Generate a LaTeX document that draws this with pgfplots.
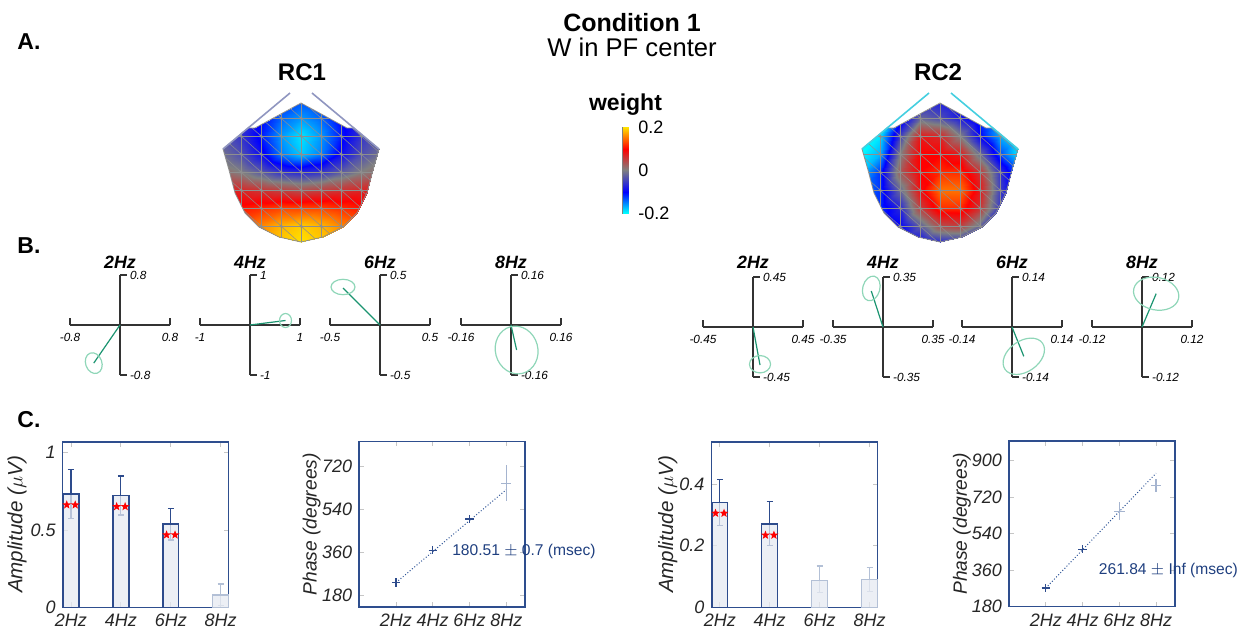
\documentclass[border=0pt]{standalone}
\usepackage{fontspec}
\setmainfont{Liberation Sans}
\usepackage{pgfplots}
\usepackage{pgfplotstable}
\pgfplotsset{compat=1.18}
\newcommand\fs[1]{\fontsize{#1}{#1}\selectfont}
\definecolor{frame}{HTML}{2E4E8E}
\definecolor{bardark}{HTML}{2D4B8C}
\definecolor{barfill}{HTML}{E6EAF2}
\definecolor{barlight}{HTML}{B3C0D6}
\definecolor{phgreen}{HTML}{1B9470}
\definecolor{elgreen}{HTML}{8FD6B8}
\definecolor{fitblue}{HTML}{2F5597}
\definecolor{txtblue}{HTML}{1F3F7F}
\definecolor{fadeblue}{HTML}{A5B4CF}
\definecolor{nose1}{HTML}{9096C0}
\definecolor{nose2}{HTML}{45CFE0}
\definecolor{meshgray}{HTML}{8E8E8E}

\pgfdeclareplotmark{fstar}{%
  \pgfpathmoveto{\pgfpointpolar{90}{\pgfplotmarksize}}%
  \pgfpathlineto{\pgfpointpolar{126}{0.42\pgfplotmarksize}}%
  \pgfpathlineto{\pgfpointpolar{162}{\pgfplotmarksize}}%
  \pgfpathlineto{\pgfpointpolar{198}{0.42\pgfplotmarksize}}%
  \pgfpathlineto{\pgfpointpolar{234}{\pgfplotmarksize}}%
  \pgfpathlineto{\pgfpointpolar{270}{0.42\pgfplotmarksize}}%
  \pgfpathlineto{\pgfpointpolar{306}{\pgfplotmarksize}}%
  \pgfpathlineto{\pgfpointpolar{342}{0.42\pgfplotmarksize}}%
  \pgfpathlineto{\pgfpointpolar{18}{\pgfplotmarksize}}%
  \pgfpathlineto{\pgfpointpolar{54}{0.42\pgfplotmarksize}}%
  \pgfpathclose\pgfusepathqfill}

% topography grids: x (px from head centre), y (-px from top), weight
\pgfplotstableread[row sep=\\]{
x y c\\
-80 -100 -0.04\\ -60 -100 -0.05\\ -40 -100 -0.08\\ -20 -100 -0.12\\ 0 -100 -0.13\\ 20 -100 -0.12\\ 40 -100 -0.08\\ 60 -100 -0.05\\ 80 -100 -0.04\\
-80 -118 -0.04\\ -60 -118 -0.06\\ -40 -118 -0.10\\ -20 -118 -0.14\\ 0 -118 -0.16\\ 20 -118 -0.14\\ 40 -118 -0.10\\ 60 -118 -0.06\\ 80 -118 -0.04\\
-80 -136 -0.03\\ -60 -136 -0.06\\ -40 -136 -0.11\\ -20 -136 -0.16\\ 0 -136 -0.19\\ 20 -136 -0.16\\ 40 -136 -0.11\\ 60 -136 -0.06\\ 80 -136 -0.03\\
-80 -154 -0.01\\ -60 -154 -0.04\\ -40 -154 -0.09\\ -20 -154 -0.15\\ 0 -154 -0.18\\ 20 -154 -0.15\\ 40 -154 -0.09\\ 60 -154 -0.04\\ 80 -154 -0.01\\
-80 -172 0.02\\ -60 -172 0.00\\ -40 -172 -0.03\\ -20 -172 -0.06\\ 0 -172 -0.07\\ 20 -172 -0.06\\ 40 -172 -0.03\\ 60 -172 0.00\\ 80 -172 0.02\\
-80 -190 0.08\\ -60 -190 0.07\\ -40 -190 0.06\\ -20 -190 0.05\\ 0 -190 0.04\\ 20 -190 0.05\\ 40 -190 0.06\\ 60 -190 0.07\\ 80 -190 0.08\\
-80 -208 0.11\\ -60 -208 0.11\\ -40 -208 0.12\\ -20 -208 0.13\\ 0 -208 0.13\\ 20 -208 0.13\\ 40 -208 0.12\\ 60 -208 0.11\\ 80 -208 0.11\\
-80 -226 0.12\\ -60 -226 0.14\\ -40 -226 0.16\\ -20 -226 0.18\\ 0 -226 0.19\\ 20 -226 0.18\\ 40 -226 0.16\\ 60 -226 0.14\\ 80 -226 0.12\\
-80 -244 0.12\\ -60 -244 0.14\\ -40 -244 0.17\\ -20 -244 0.19\\ 0 -244 0.20\\ 20 -244 0.19\\ 40 -244 0.17\\ 60 -244 0.14\\ 80 -244 0.12\\
}\rcone
\pgfplotstableread[row sep=\\]{
x y c\\
-80 -100 -0.20\\ -60 -100 -0.20\\ -40 -100 -0.15\\ -20 -100 -0.10\\ 0 -100 -0.08\\ 20 -100 -0.10\\ 40 -100 -0.15\\ 60 -100 -0.20\\ 80 -100 -0.20\\
-80 -118 -0.20\\ -60 -118 -0.18\\ -40 -118 -0.12\\ -20 -118 -0.02\\ 0 -118 -0.04\\ 20 -118 -0.08\\ 40 -118 -0.12\\ 60 -118 -0.18\\ 80 -118 -0.20\\
-80 -136 -0.20\\ -60 -136 -0.19\\ -40 -136 -0.05\\ -20 -136 0.08\\ 0 -136 0.07\\ 20 -136 0.00\\ 40 -136 -0.10\\ 60 -136 -0.17\\ 80 -136 -0.20\\
-80 -154 -0.20\\ -60 -154 -0.17\\ -40 -154 0.00\\ -20 -154 0.10\\ 0 -154 0.10\\ 20 -154 0.08\\ 40 -154 -0.02\\ 60 -154 -0.13\\ 80 -154 -0.20\\
-80 -172 -0.18\\ -60 -172 -0.12\\ -40 -172 0.03\\ -20 -172 0.10\\ 0 -172 0.12\\ 20 -172 0.12\\ 40 -172 0.06\\ 60 -172 -0.06\\ 80 -172 -0.15\\
-80 -190 -0.16\\ -60 -190 -0.12\\ -40 -190 -0.02\\ -20 -190 0.09\\ 0 -190 0.15\\ 20 -190 0.15\\ 40 -190 0.08\\ 60 -190 -0.05\\ 80 -190 -0.12\\
-80 -208 -0.14\\ -60 -208 -0.12\\ -40 -208 -0.07\\ -20 -208 0.05\\ 0 -208 0.12\\ 20 -208 0.12\\ 40 -208 0.06\\ 60 -208 -0.06\\ 80 -208 -0.12\\
-80 -226 -0.12\\ -60 -226 -0.12\\ -40 -226 -0.10\\ -20 -226 -0.03\\ 0 -226 0.04\\ 20 -226 0.05\\ 40 -226 -0.02\\ 60 -226 -0.08\\ 80 -226 -0.10\\
-80 -244 -0.10\\ -60 -244 -0.10\\ -40 -244 -0.10\\ -20 -244 -0.10\\ 0 -244 -0.08\\ 20 -244 -0.08\\ 40 -244 -0.09\\ 60 -244 -0.10\\ 80 -244 -0.10\\
}\rctwo
\pgfplotstableread[row sep=\\]{
x y c\\
0 -0.2 -0.2\\ 1 -0.2 -0.2\\
0 -0.1 -0.1\\ 1 -0.1 -0.1\\
0 0 0\\ 1 0 0\\
0 0.1 0.1\\ 1 0.1 0.1\\
0 0.2 0.2\\ 1 0.2 0.2\\
}\cbar
% head outline (px from centre, -px from top)
\pgfplotstableread[row sep=\\]{
x y\\ 0 -103\\ 46 -128\\ 53 -128\\ 78 -149\\ 72 -170\\ 66 -193\\ 56 -213\\ 42 -227\\ 22 -237\\ 0 -242\\
-22 -237\\ -42 -227\\ -56 -213\\ -66 -193\\ -72 -170\\ -78 -149\\ -53 -128\\ -46 -128\\ 0 -103\\
}\outline

\pgfplotsset{
  colormap={topo}{rgb255(0cm)=(0,255,255); rgb255(1cm)=(0,0,255); rgb255(2cm)=(128,128,128); rgb255(3cm)=(255,0,0); rgb255(4cm)=(255,228,0)},
  headax/.style={hide axis, scale only axis, width=82pt, height=76pt, xmin=-82, xmax=82, ymin=-245, ymax=-93,
    anchor=center, colormap name=topo, point meta min=-0.2, point meta max=0.2},
  meshdiag/.style={meshgray, line width=0.25pt, unbounded coords=jump},
  phasor/.style={scale only axis, width=50pt, height=50pt, anchor=center, clip=false,
    axis lines=middle, axis line style={-, draw=black!80, line width=0.8pt},
    tick style={draw=black!80, line width=0.7pt}, major tick length=3.5pt, tick align=inside,
    ticklabel style={font=\itshape\fs{5.9}},
    yticklabel style={anchor=west, xshift=1.5pt},
    xticklabel style={yshift=-0.5pt},
    xmin=-#1, xmax=#1, ymin=-#1, ymax=#1, xtick={-#1,#1}, ytick={-#1,#1}},
  cax/.style={scale only axis, width=83pt, height=82.75pt, anchor=center, clip=false,
    axis line style={draw=frame, line width=0.75pt},
    tick style={draw=gray!45, line width=0.4pt}, major tick length=2.5pt, tick align=inside,
    ticklabel style={font=\itshape\fs{9}, text=black!85},
    ylabel style={font=\itshape\fs{9.6}, text=black!85, anchor=center}},
  barax/.style={cax, xmin=0.834, xmax=4.16, ymin=0, xtick={1,2,3,4}, xticklabels={2Hz,4Hz,6Hz,8Hz},
    ylabel={Amplitude ($\mu$V)}, ylabel style={font=\itshape\fs{10.3}}},
  phax/.style={cax, xmin=0, xmax=9.03, xtick={2,4,6,8}, xticklabels={2Hz,4Hz,6Hz,8Hz},
    ylabel={Phase (degrees)}},
  ebar/.style={draw=none, mark=none, error bars/.cd, y dir=both, y explicit,
    error bar style={draw=#1, line width=0.6pt}, error mark=-,
    error mark options={rotate=90, draw=#1, line width=0.6pt, mark size=1.5pt}},
}

\begin{document}
\begin{tikzpicture}
\useasboundingbox (0,0) rectangle (621.5pt,-316pt);

% ---------- titles ----------
\node[anchor=base, inner sep=0pt, font=\bfseries\fs{12.5}] at (316pt,-15.5pt) {Condition 1};
\node[anchor=base, inner sep=0pt, font=\fs{12.8}] at (316pt,-28pt) {W in PF center};
\node[anchor=base west, inner sep=0pt, font=\bfseries\fs{11.5}] at (8.5pt,-24.5pt) {A.};
\node[anchor=base west, inner sep=0pt, font=\bfseries\fs{11.5}] at (8.5pt,-126.5pt) {B.};
\node[anchor=base west, inner sep=0pt, font=\bfseries\fs{11.5}] at (8.5pt,-213.5pt) {C.};
\node[anchor=base, font=\bfseries\fs{12}] at (151pt,-40pt) {RC1};
\node[anchor=base, font=\bfseries\fs{12}] at (469pt,-40pt) {RC2};
\node[anchor=base, font=\bfseries\fs{11.5}] at (312.75pt,-55pt) {weight};

% ---------- RC1 head ----------
\begin{scope}
\clip[x=0.5pt,y=-0.5pt,shift={(301,0)}] (0,103) -- (46,128) -- (53,128) -- (78,149) -- (72,170) -- (66,193) -- (56,213) -- (42,227) -- (22,237) -- (0,242) -- (-22,237) -- (-42,227) -- (-56,213) -- (-66,193) -- (-72,170) -- (-78,149) -- (-53,128) -- (-46,128) -- cycle;
\begin{axis}[headax, at={(150.5pt,-84.5pt)}]
\addplot[surf, shader=interp, mesh/cols=9, point meta=explicit] table[meta=c]{\rcone};
\addplot[meshdiag] table[x=x, y=y, row sep=\\]{x y\\ -80 -100\\ 80 -100\\ nan nan\\ -80 -118\\ 80 -118\\ nan nan\\ -80 -136\\ 80 -136\\ nan nan\\ -80 -154\\ 80 -154\\ nan nan\\ -80 -172\\ 80 -172\\ nan nan\\ -80 -190\\ 80 -190\\ nan nan\\ -80 -208\\ 80 -208\\ nan nan\\ -80 -226\\ 80 -226\\ nan nan\\ -80 -244\\ 80 -244\\ nan nan\\ -80 -100\\ -80 -244\\ nan nan\\ -60 -100\\ -60 -244\\ nan nan\\ -40 -100\\ -40 -244\\ nan nan\\ -20 -100\\ -20 -244\\ nan nan\\ 0 -100\\ 0 -244\\ nan nan\\ 20 -100\\ 20 -244\\ nan nan\\ 40 -100\\ 40 -244\\ nan nan\\ 60 -100\\ 60 -244\\ nan nan\\ 80 -100\\ 80 -244\\};
\addplot[meshdiag] coordinates {(60,-100)(80,-118) (nan,nan) (40,-100)(80,-136) (nan,nan) (20,-100)(80,-154) (nan,nan) (0,-100)(80,-172) (nan,nan) (-20,-100)(80,-190) (nan,nan) (-40,-100)(80,-208) (nan,nan) (-60,-100)(80,-226) (nan,nan) (-80,-100)(80,-244) (nan,nan) (-80,-118)(60,-244) (nan,nan) (-80,-136)(40,-244) (nan,nan) (-80,-154)(20,-244) (nan,nan) (-80,-172)(0,-244) (nan,nan) (-80,-190)(-20,-244) (nan,nan) (-80,-208)(-40,-244) (nan,nan) (-80,-226)(-60,-244)};
\addplot[only marks, mark=*, mark size=0.5pt, meshgray] table[x=x, y=y]{\rcone};
\end{axis}
\end{scope}
\begin{axis}[headax, at={(150.5pt,-84.5pt)}, clip=false]
\addplot[meshgray, line width=0.4pt] table[x=x, y=y]{\outline};
\addplot[nose1, line width=0.8pt] coordinates {(-11,-93) (-78,-149)};
\addplot[nose1, line width=0.8pt] coordinates {(11,-93) (78,-149)};
\end{axis}

% ---------- RC2 head ----------
\begin{scope}
\clip[x=0.5pt,y=-0.5pt,shift={(940,0)}] (0,103) -- (46,128) -- (53,128) -- (78,149) -- (72,170) -- (66,193) -- (56,213) -- (42,227) -- (22,237) -- (0,242) -- (-22,237) -- (-42,227) -- (-56,213) -- (-66,193) -- (-72,170) -- (-78,149) -- (-53,128) -- (-46,128) -- cycle;
\begin{axis}[headax, at={(470pt,-84.5pt)}]
\addplot[surf, shader=interp, mesh/cols=9, point meta=explicit] table[meta=c]{\rctwo};
\addplot[meshdiag] table[x=x, y=y, row sep=\\]{x y\\ -80 -100\\ 80 -100\\ nan nan\\ -80 -118\\ 80 -118\\ nan nan\\ -80 -136\\ 80 -136\\ nan nan\\ -80 -154\\ 80 -154\\ nan nan\\ -80 -172\\ 80 -172\\ nan nan\\ -80 -190\\ 80 -190\\ nan nan\\ -80 -208\\ 80 -208\\ nan nan\\ -80 -226\\ 80 -226\\ nan nan\\ -80 -244\\ 80 -244\\ nan nan\\ -80 -100\\ -80 -244\\ nan nan\\ -60 -100\\ -60 -244\\ nan nan\\ -40 -100\\ -40 -244\\ nan nan\\ -20 -100\\ -20 -244\\ nan nan\\ 0 -100\\ 0 -244\\ nan nan\\ 20 -100\\ 20 -244\\ nan nan\\ 40 -100\\ 40 -244\\ nan nan\\ 60 -100\\ 60 -244\\ nan nan\\ 80 -100\\ 80 -244\\};
\addplot[meshdiag] coordinates {(60,-100)(80,-118) (nan,nan) (40,-100)(80,-136) (nan,nan) (20,-100)(80,-154) (nan,nan) (0,-100)(80,-172) (nan,nan) (-20,-100)(80,-190) (nan,nan) (-40,-100)(80,-208) (nan,nan) (-60,-100)(80,-226) (nan,nan) (-80,-100)(80,-244) (nan,nan) (-80,-118)(60,-244) (nan,nan) (-80,-136)(40,-244) (nan,nan) (-80,-154)(20,-244) (nan,nan) (-80,-172)(0,-244) (nan,nan) (-80,-190)(-20,-244) (nan,nan) (-80,-208)(-40,-244) (nan,nan) (-80,-226)(-60,-244)};
\addplot[only marks, mark=*, mark size=0.5pt, meshgray] table[x=x, y=y]{\rctwo};
\end{axis}
\end{scope}
\begin{axis}[headax, at={(470pt,-84.5pt)}, clip=false]
\addplot[meshgray, line width=0.4pt] table[x=x, y=y]{\outline};
\addplot[nose2, line width=0.8pt] coordinates {(-11,-93) (-78,-149)};
\addplot[nose2, line width=0.8pt] coordinates {(11,-93) (78,-149)};
\end{axis}

% ---------- colour bar ----------
\begin{axis}[at={(312.75pt,-85pt)}, anchor=center, scale only axis, width=2.8pt, height=43pt,
  xmin=0, xmax=1, ymin=-0.2, ymax=0.2, xtick=\empty, ytick={-0.2,0,0.2}, yticklabels={-0.2,0,0.2},
  yticklabel pos=right, major tick length=0pt, axis line style={draw=gray, line width=0.4pt},
  colormap name=topo, point meta min=-0.2, point meta max=0.2,
  yticklabel style={font=\fs{9}, xshift=1.5pt}]
\addplot[surf, shader=interp, mesh/cols=2, point meta=explicit] table[meta=c]{\cbar};
\end{axis}

% ---------- B: phasor titles ----------
\foreach \cx/\lab in {60/2Hz,125/4Hz,190/6Hz,255.5/8Hz,376.5/2Hz,441.5/4Hz,506/6Hz,571/8Hz}{
  \node[anchor=base, font=\bfseries\itshape\fs{8.9}] at (\cx pt,-134pt) {\lab};}

% ---------- B: phasors RC1 ----------
\begin{axis}[phasor=0.8, at={(60pt,-162.5pt)}, xticklabels={-0.8,0.8}, yticklabels={-0.8,0.8}]
\addplot[phgreen, line width=0.6pt] coordinates {(0,0) (-0.42,-0.61)};
\draw[elgreen, line width=0.6pt, rotate around={20:(axis cs:-0.42,-0.61)}] (axis cs:-0.42,-0.61) ellipse [x radius=0.13, y radius=0.17];
\end{axis}
\begin{axis}[phasor=1, at={(125pt,-162.5pt)}, xticklabels={-1,1}, yticklabels={-1,1}]
\addplot[phgreen, line width=0.6pt] coordinates {(0,0) (0.71,0.09)};
\draw[elgreen, line width=0.6pt] (axis cs:0.71,0.09) ellipse [x radius=0.12, y radius=0.14];
\end{axis}
\begin{axis}[phasor=0.5, at={(190pt,-162.5pt)}, xticklabels={-0.5,0.5}, yticklabels={-0.5,0.5}]
\addplot[phgreen, line width=0.6pt] coordinates {(0,0) (-0.37,0.37)};
\draw[elgreen, line width=0.6pt] (axis cs:-0.37,0.38) ellipse [x radius=0.12, y radius=0.077];
\end{axis}
\begin{axis}[phasor=0.16, at={(255.5pt,-162.5pt)}, xticklabels={-0.16,0.16}, yticklabels={-0.16,0.16}]
\addplot[phgreen, line width=0.6pt] coordinates {(0,0) (0.018,-0.08)};
\draw[elgreen, line width=0.6pt, rotate around={15:(axis cs:0.018,-0.08)}] (axis cs:0.018,-0.08) ellipse [x radius=0.068, y radius=0.077];
\end{axis}

% ---------- B: phasors RC2 ----------
\begin{axis}[phasor=0.45, at={(376.5pt,-163.5pt)}, xticklabels={-0.45,0.45}, yticklabels={-0.45,0.45}]
\addplot[phgreen, line width=0.6pt] coordinates {(0,0) (0.063,-0.342)};
\draw[elgreen, line width=0.6pt] (axis cs:0.063,-0.335) ellipse [x radius=0.095, y radius=0.078];
\end{axis}
\begin{axis}[phasor=0.35, at={(441.5pt,-163.5pt)}, xticklabels={-0.35,0.35}, yticklabels={-0.35,0.35}]
\addplot[phgreen, line width=0.6pt] coordinates {(0,0) (-0.082,0.252)};
\draw[elgreen, line width=0.6pt, rotate around={-15:(axis cs:-0.082,0.27)}] (axis cs:-0.082,0.27) ellipse [x radius=0.06, y radius=0.088];
\end{axis}
\begin{axis}[phasor=0.14, at={(506pt,-163.5pt)}, xticklabels={-0.14,0.14}, yticklabels={-0.14,0.14}]
\addplot[phgreen, line width=0.6pt] coordinates {(0,0) (0.033,-0.082)};
\draw[elgreen, line width=0.6pt, rotate around={35:(axis cs:0.033,-0.082)}] (axis cs:0.033,-0.082) ellipse [x radius=0.064, y radius=0.043];
\end{axis}
\begin{axis}[phasor=0.12, at={(571pt,-163.5pt)}, xticklabels={-0.12,0.12}, yticklabels={-0.12,0.12}]
\addplot[phgreen, line width=0.6pt] coordinates {(0,0) (0.034,0.08)};
\draw[elgreen, line width=0.6pt, rotate around={-12:(axis cs:0.034,0.08)}] (axis cs:0.034,0.08) ellipse [x radius=0.055, y radius=0.039];
\end{axis}

% ---------- C: RC1 amplitude ----------
\begin{axis}[barax, at={(72.85pt,-262.25pt)}, ymax=1.07, ytick={0,0.5,1}, yticklabels={0,0.5,1},
  ylabel style={at={(axis description cs:-0.275,0.5)}}]
\addplot[ebar=bardark] coordinates {(1,0.733) += (0,0.156) -= (0,0.157) (2,0.724) += (0,0.125) -= (0,0.127) (3,0.537) += (0,0.103) -= (0,0.102)};
\addplot[ebar=barlight] coordinates {(4,0.080) += (0,0.071) -= (0,0.07)};
\addplot[ybar, bar width=0.32, bar shift=0pt, fill=barfill, fill opacity=0.75, draw=bardark, line width=0.7pt]
  coordinates {(1,0.733) (2,0.724) (3,0.537)};
\addplot[ybar, bar width=0.32, bar shift=0pt, fill=barfill, fill opacity=0.75, draw=barlight, line width=0.7pt]
  coordinates {(4,0.080)};
\addplot[only marks, mark=fstar, mark size=2.3pt, red] coordinates {(0.915,0.662) (1.085,0.662) (1.915,0.651) (2.085,0.651) (2.915,0.468) (3.085,0.468)};
\end{axis}

% ---------- C: RC1 phase ----------
\begin{axis}[phax, at={(221.1pt,-262.1pt)}, ymin=131, ymax=825, ytick={180,360,540,720}, yticklabels={180,360,540,720},
  ylabel style={at={(axis description cs:-0.287,0.5)}}]
\addplot[fitblue, line width=0.5pt, densely dotted] coordinates {(2,233) (8,623)};
\addplot[only marks, mark=+, mark size=2.6pt, fadeblue, line width=0.6pt, error bars/.cd, y dir=both, y explicit,
  error bar style={draw=fadeblue, line width=0.6pt}, error mark=none] coordinates {(8,650) += (0,77) -= (0,75)};
\addplot[only marks, mark=+, mark size=2.1pt, bardark, line width=0.6pt] coordinates {(2,233) (4,369) (6,500)};
\node[anchor=west, inner sep=0pt, text=txtblue, font=\fs{7.8}] at (axis cs:5.04,362) {180.51 $\pm$ 0.7 (msec)};
\end{axis}

% ---------- C: RC2 amplitude ----------
\begin{axis}[barax, at={(397.25pt,-262.25pt)}, ymax=0.537, ytick={0,0.2,0.4}, yticklabels={0,0.2,0.4},
  ylabel style={at={(axis description cs:-0.264,0.5)}}]
\addplot[ebar=bardark] coordinates {(1,0.340) += (0,0.075) -= (0,0.076) (2,0.270) += (0,0.072) -= (0,0.069)};
\addplot[ebar=barlight] coordinates {(3,0.086) += (0,0.048) -= (0,0.039) (4,0.091) += (0,0.039) -= (0,0.040)};
\addplot[ybar, bar width=0.32, bar shift=0pt, fill=barfill, fill opacity=0.75, draw=bardark, line width=0.7pt]
  coordinates {(1,0.340) (2,0.270)};
\addplot[ybar, bar width=0.32, bar shift=0pt, fill=barfill, fill opacity=0.75, draw=barlight, line width=0.7pt]
  coordinates {(3,0.086) (4,0.091)};
\addplot[only marks, mark=fstar, mark size=2.3pt, red] coordinates {(0.915,0.305) (1.085,0.305) (1.915,0.234) (2.085,0.234)};
\end{axis}

% ---------- C: RC2 phase ----------
\begin{axis}[phax, at={(546pt,-261.9pt)}, ymin=180, ymax=995, ytick={180,360,540,720,900}, yticklabels={180,360,540,720,900},
  ylabel style={at={(axis description cs:-0.284,0.5)}}]
\addplot[fitblue, line width=0.5pt, densely dotted] coordinates {(2,271) (8,836.6)};
\addplot[only marks, mark=+, mark size=2.6pt, fadeblue, line width=0.6pt, error bars/.cd, y dir=both, y explicit,
  error bar style={draw=fadeblue, line width=0.6pt}, error mark=none] coordinates {(6,649) += (0,44) -= (0,43) (8,776) += (0,34) -= (0,33)};
\addplot[only marks, mark=+, mark size=2.1pt, bardark, line width=0.6pt] coordinates {(2,271) (4,462)};
\node[anchor=west, inner sep=0pt, text=txtblue, font=\fs{7.8}] at (axis cs:4.87,357) {261.84 $\pm$ Inf (msec)};
\end{axis}

\end{tikzpicture}
\end{document}
